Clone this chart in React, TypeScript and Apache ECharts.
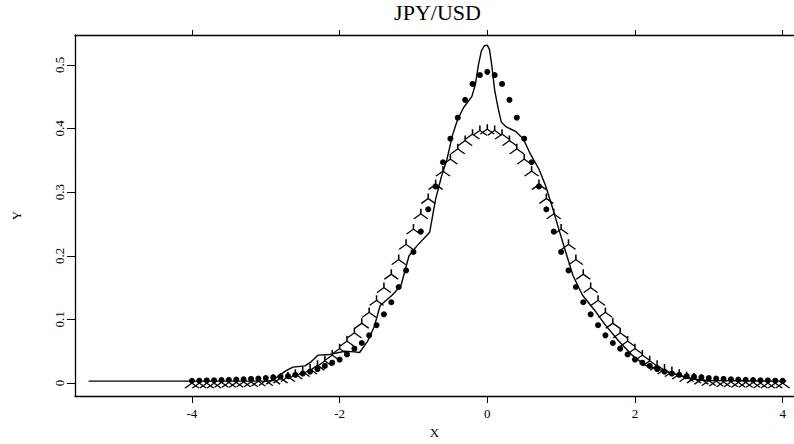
import React, { useEffect, useRef } from "react";
import * as echarts from "echarts";

const titleText = "JPY/USD";
const xTicks = [-4, -2, 0, 2, 4];
const yTicks = [0, 0.1, 0.2, 0.3, 0.4, 0.5];

// grid of x positions for the marker series
const xGrid = [
  -4.0, -3.9, -3.8, -3.7, -3.6, -3.5, -3.4, -3.3, -3.2, -3.1,
  -3.0, -2.9, -2.8, -2.7, -2.6, -2.5, -2.4, -2.3, -2.2, -2.1,
  -2.0, -1.9, -1.8, -1.7, -1.6, -1.5, -1.4, -1.3, -1.2, -1.1,
  -1.0, -0.9, -0.8, -0.7, -0.6, -0.5, -0.4, -0.3, -0.2, -0.1,
  0.0, 0.1, 0.2, 0.3, 0.4, 0.5, 0.6, 0.7, 0.8, 0.9,
  1.0, 1.1, 1.2, 1.3, 1.4, 1.5, 1.6, 1.7, 1.8, 1.9,
  2.0, 2.1, 2.2, 2.3, 2.4, 2.5, 2.6, 2.7, 2.8, 2.9,
  3.0, 3.1, 3.2, 3.3, 3.4, 3.5, 3.6, 3.7, 3.8, 3.9, 4.0,
];

// filled dots (fitted density)
const dotValues = [
  0.0035, 0.0038, 0.0041, 0.0044, 0.0047, 0.005, 0.0055, 0.006, 0.0065, 0.007,
  0.008, 0.009, 0.010, 0.011, 0.013, 0.015, 0.018, 0.022, 0.027, 0.032,
  0.037, 0.045, 0.054, 0.063, 0.075, 0.091, 0.108, 0.127, 0.151, 0.177,
  0.206, 0.238, 0.273, 0.309, 0.347, 0.384, 0.417, 0.445, 0.470, 0.484,
  0.489, 0.484, 0.470, 0.445, 0.417, 0.384, 0.347, 0.309, 0.273, 0.238,
  0.206, 0.177, 0.151, 0.127, 0.108, 0.091, 0.075, 0.063, 0.054, 0.045,
  0.037, 0.032, 0.027, 0.022, 0.018, 0.015, 0.013, 0.011, 0.010, 0.009,
  0.008, 0.007, 0.0065, 0.006, 0.0055, 0.005, 0.0047, 0.0044, 0.0041, 0.0038, 0.0035,
];

// "⅄" markers (normal density)
const normValues = [
  0.000, 0.000, 0.000, 0.000, 0.001, 0.001, 0.001, 0.002, 0.002, 0.003,
  0.004, 0.006, 0.008, 0.010, 0.014, 0.018, 0.022, 0.028, 0.035, 0.044,
  0.054, 0.066, 0.079, 0.094, 0.111, 0.130, 0.150, 0.171, 0.194, 0.218,
  0.242, 0.266, 0.290, 0.312, 0.333, 0.352, 0.368, 0.381, 0.391, 0.397,
  0.399, 0.397, 0.391, 0.381, 0.368, 0.352, 0.333, 0.312, 0.290, 0.266,
  0.242, 0.218, 0.194, 0.171, 0.150, 0.130, 0.111, 0.094, 0.079, 0.066,
  0.054, 0.044, 0.035, 0.028, 0.022, 0.018, 0.014, 0.010, 0.008, 0.006,
  0.004, 0.003, 0.002, 0.002, 0.001, 0.001, 0.001, 0.000, 0.000, 0.000, 0.000,
];

// empirical density line
const lineX = [
  -5.40, -3.0, -2.9, -2.83, -2.72, -2.63, -2.47, -2.39, -2.29, -2.13,
  -1.93, -1.80, -1.73, -1.62, -1.53, -1.45, -1.29, -1.17, -1.06, -0.95,
  -0.78, -0.70, -0.62, -0.55, -0.47, -0.40, -0.32, -0.21, -0.16, -0.12,
  -0.08, -0.04, 0.0, 0.03, 0.06, 0.10, 0.15, 0.19, 0.25, 0.30,
  0.39, 0.49, 0.57, 0.70, 0.79, 0.89, 0.96, 1.02, 1.16, 1.29,
  1.47, 1.60, 1.78, 1.96, 2.14, 2.37, 2.58, 2.81, 3.0, 4.05,
];
const lineY = [
  0.003, 0.003, 0.004, 0.011, 0.020, 0.025, 0.027, 0.033, 0.044, 0.045,
  0.050, 0.049, 0.048, 0.066, 0.089, 0.122, 0.138, 0.153, 0.200, 0.216,
  0.237, 0.289, 0.325, 0.350, 0.390, 0.415, 0.433, 0.450, 0.470, 0.500,
  0.522, 0.530, 0.531, 0.524, 0.500, 0.460, 0.430, 0.410, 0.403, 0.400,
  0.395, 0.383, 0.363, 0.336, 0.310, 0.273, 0.245, 0.222, 0.169, 0.138,
  0.112, 0.091, 0.066, 0.044, 0.028, 0.020, 0.013, 0.006, 0.004, 0.003,
];

const FONT = "Liberation Serif";
const markerPath = "path://M7,5 L7,0 M7,5 L0,10 M7,5 L14,10";

export default function App() {
  const ref = useRef<HTMLDivElement>(null);
  useEffect(() => {
    if (!ref.current) return;
    const chart = echarts.init(ref.current, null, { renderer: "svg" });
    const xMin = -5.584;
    const xMax = 4.154;
    const yMin = -0.0203;
    const yMax = 0.5469;
    const axisText = { fontFamily: FONT, fontSize: 13, color: "#000" };
    chart.setOption({
      animation: false,
      backgroundColor: "#fff",
      grid: { left: 75, top: 35, width: 725, height: 363, containLabel: false },
      graphic: [
        {
          type: "text",
          x: 437.5,
          y: 1,
          style: {
            text: titleText,
            font: `22px "${FONT}"`,
            fill: "#000",
            textAlign: "center",
            textVerticalAlign: "top",
          },
        },
      ],
      xAxis: [
        {
          type: "value",
          position: "bottom",
          min: xMin,
          max: xMax,
          name: "X",
          nameLocation: "middle",
          nameGap: 30,
          nameTextStyle: axisText,
          axisLine: { show: true, onZero: false, lineStyle: { color: "#000", width: 1.3 } },
          axisTick: { show: true, length: 7, customValues: xTicks, lineStyle: { color: "#000", width: 1 } },
          axisLabel: { show: true, customValues: xTicks, margin: 11, ...axisText },
          splitLine: { show: false },
        },
        {
          type: "value",
          position: "top",
          min: xMin,
          max: xMax,
          axisLine: { show: true, onZero: false, lineStyle: { color: "#000", width: 1.3 } },
          axisTick: { show: true, length: 5, customValues: xTicks, lineStyle: { color: "#000", width: 1 } },
          axisLabel: { show: false },
          splitLine: { show: false },
        },
      ],
      yAxis: {
        type: "value",
        position: "left",
        min: yMin,
        max: yMax,
        name: "Y",
        nameLocation: "middle",
        nameGap: 52,
        nameRotate: 90,
        nameTextStyle: axisText,
        axisLine: { show: true, onZero: false, lineStyle: { color: "#000", width: 1.3 } },
        axisTick: { show: true, length: 8, customValues: yTicks, lineStyle: { color: "#000", width: 1 } },
        axisLabel: { show: true, rotate: 90, customValues: yTicks, margin: 9, ...axisText },
        splitLine: { show: false },
      },
      series: [
        {
          type: "line",
          data: lineX.map((x, i) => [x, lineY[i]]),
          showSymbol: false,
          symbol: "none",
          lineStyle: { color: "#000", width: 1.4 },
          z: 3,
        },
        {
          type: "scatter",
          data: xGrid.map((x, i) => [x, dotValues[i]]),
          symbol: "circle",
          symbolSize: 6,
          itemStyle: { color: "#000", opacity: 1 },
          z: 4,
        },
        {
          type: "scatter",
          data: xGrid.map((x, i) => [x, normValues[i]]),
          symbol: markerPath,
          symbolSize: [14, 10],
          symbolKeepAspect: false,
          itemStyle: { color: "none", borderColor: "#000", borderWidth: 1.3, opacity: 1 },
          z: 5,
        },
      ],
    });
    return () => chart.dispose();
  }, []);
  return (
    <div
      ref={ref}
      style={{ position: "fixed", left: 0, top: 0, width: 794, height: 444, background: "#fff" }}
    />
  );
}
